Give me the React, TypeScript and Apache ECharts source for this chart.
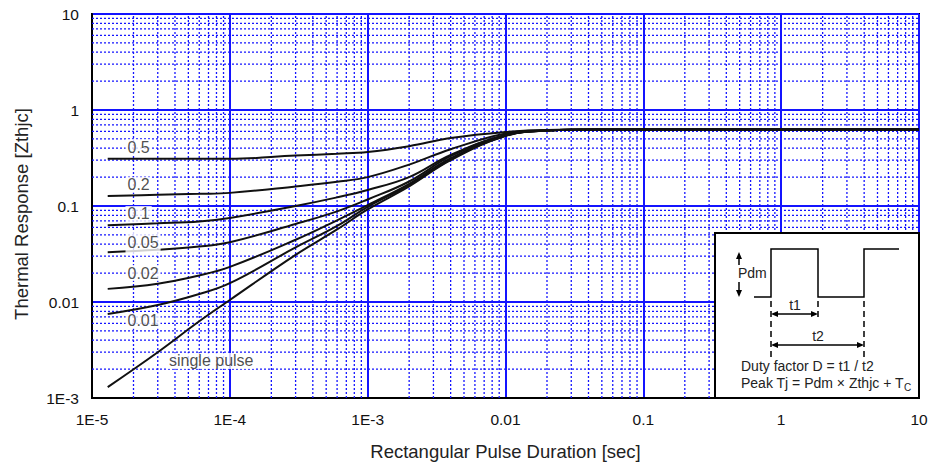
import React, { useEffect, useRef } from "react";
import * as echarts from "echarts";

// Pulse durations (sec) at which the curves are sampled
const times = [1.3e-5, 3e-5, 6e-5, 1e-4, 3e-4, 6e-4, 1e-3, 2e-3, 4e-3, 1e-2, 2e-2, 5e-2, 10];
// Thermal response (Zthjc) for each duty factor
const d05 = [0.31, 0.31, 0.31, 0.31, 0.335, 0.35, 0.365, 0.42, 0.51, 0.59, 0.62, 0.625, 0.625];
const d02 = [0.127, 0.131, 0.134, 0.137, 0.16, 0.179, 0.2, 0.27, 0.39, 0.57, 0.615, 0.625, 0.625];
const d01 = [0.063, 0.066, 0.069, 0.075, 0.1, 0.123, 0.147, 0.2, 0.34, 0.55, 0.61, 0.625, 0.625];
const d005 = [0.033, 0.035, 0.0378, 0.042, 0.065, 0.088, 0.117, 0.18, 0.33, 0.55, 0.61, 0.625, 0.625];
const d002 = [0.0137, 0.0155, 0.0189, 0.0232, 0.0445, 0.071, 0.102, 0.17, 0.315, 0.545, 0.61, 0.625, 0.625];
const d001 = [0.0075, 0.0093, 0.0121, 0.0157, 0.037, 0.062, 0.098, 0.165, 0.305, 0.54, 0.61, 0.625, 0.625];
const single = [0.0013, 0.003, 0.0063, 0.0105, 0.031, 0.057, 0.092, 0.16, 0.3, 0.535, 0.61, 0.625, 0.625];

const curveNames = ["0.5", "0.2", "0.1", "0.05", "0.02", "0.01", "single pulse"];
const curveValues = [d05, d02, d01, d005, d002, d001, single];

// Curve label anchor points (data coords: left edge of label)
const labelTexts = ["0.5", "0.2", "0.1", "0.05", "0.02", "0.01", "single pulse"];
const labelX = [1.75e-5, 1.75e-5, 1.75e-5, 1.75e-5, 1.75e-5, 1.75e-5, 3.5e-5];
const labelY = [0.41, 0.166, 0.0826, 0.0412, 0.02, 0.00634, 0.00243];

// Axis ranges and tick labels
const xRange = [1e-5, 10];
const yRange = [1e-3, 10];
const xTickLabels: Record<string, string> = {
  "0.00001": "1E-5", "0.0001": "1E-4", "0.001": "1E-3", "0.01": "0.01", "0.1": "0.1", "1": "1", "10": "10",
};
const yTickLabels: Record<string, string> = {
  "0.001": "1E-3", "0.01": "0.01", "0.1": "0.1", "1": "1", "10": "10",
};

// Minor log grid
const mantissas = [2, 3, 4, 5, 6, 7, 8, 9];
const xDecades = [-5, -4, -3, -2, -1, 0];
const yDecades = [-3, -2, -1, 0];

const FONT = "'Liberation Sans', Arial, Helvetica, sans-serif";

function minorValues(decades: number[]) {
  const out: number[] = [];
  decades.forEach((d) => mantissas.forEach((m) => out.push(Number((m * Math.pow(10, d)).toPrecision(3)))));
  return out;
}

function fmt(v: number, map: Record<string, string>) {
  const key = String(Number(v.toPrecision(3)));
  return map[key] ?? "";
}

export default function App() {
  const ref = useRef<HTMLDivElement>(null);

  useEffect(() => {
    if (!ref.current) return;
    const chart = echarts.init(ref.current, undefined, { renderer: "svg" });

    const minorX = minorValues(xDecades);
    const minorY = minorValues(yDecades);

    const blue = "#1414ff";
    const black = "#000";

    const vData: any[] = [];
    minorX.forEach((v) => {
      vData.push([v, yRange[0]], [v, yRange[1]], [v, "-"]);
    });
    const hData: any[] = [];
    minorY.forEach((v) => {
      hData.push([xRange[0], v], [xRange[1], v], ["-", v]);
    });
    const minorStyle = { color: blue, width: 1.3, type: [2, 2] };
    const gridSeries = [vData, hData].map((d) => ({
      type: "line",
      data: d,
      silent: true,
      z: 1,
      symbol: "none",
      showSymbol: false,
      connectNulls: false,
      lineStyle: minorStyle,
    }));

    const curveSeries = curveNames.map((name, i) => ({
      name,
      type: "line",
      data: times.map((t, j) => [t, curveValues[i][j]]),
      smooth: 0.4,
      showSymbol: false,
      symbol: "none",
      lineStyle: { color: "#111", width: 2 },
      z: 5,
      silent: true,
    }));

    const labelSeries = {
      type: "scatter",
      symbolSize: 0,
      z: 10,
      silent: true,
      data: labelTexts.map((t, i) => ({
        value: [labelX[i], labelY[i]],
        name: t,
        label: t === "0.05" ? { padding: [0, 2, 9, 2] } : undefined,
      })),
      label: {
        show: true,
        position: "right",
        distance: 0,
        formatter: (p: any) => p.name,
        color: "#222",
        fontSize: 16,
        fontFamily: FONT,
        backgroundColor: "#fff",
        padding: [0, 2, 0, 2],
      },
    };

    const arrowHead = (tip: number[], dir: "up" | "down" | "left" | "right") => {
      const [x, y] = tip;
      const L = 7, W = 3;
      let pts: number[][] = [];
      if (dir === "up") pts = [[x, y], [x - W, y + L], [x + W, y + L]];
      if (dir === "down") pts = [[x, y], [x - W, y - L], [x + W, y - L]];
      if (dir === "left") pts = [[x, y], [x + L, y - W], [x + L, y + W]];
      if (dir === "right") pts = [[x, y], [x - L, y - W], [x - L, y + W]];
      return { type: "polygon", z: 101, shape: { points: pts }, style: { fill: black } };
    };
    const seg = (x1: number, y1: number, x2: number, y2: number, dashed = false) => ({
      type: "line",
      z: 101,
      shape: { x1, y1, x2, y2 },
      style: { stroke: black, lineWidth: 1.5, lineDash: dashed ? [6, 4] : null },
    });
    const txt = (x: number, y: number, text: string, align = "left") => ({
      type: "text",
      z: 102,
      x,
      y,
      style: {
        text,
        fill: "#222",
        font: `14px ${FONT}`,
        align,
        verticalAlign: "middle",
      },
    });

    const inset = [
      {
        type: "rect",
        z: 100,
        shape: { x: 715, y: 233, width: 204, height: 165 },
        style: { fill: "#fff", stroke: black, lineWidth: 2 },
      },
      {
        type: "polyline",
        z: 101,
        shape: { points: [[754, 297], [771, 297], [771, 249], [818, 249], [818, 297], [864, 297], [864, 249], [899, 249]] },
        style: { stroke: black, lineWidth: 1.5, fill: null },
      },
      seg(739, 256, 739, 265), arrowHead([739, 252], "up"),
      seg(739, 282, 739, 292), arrowHead([739, 297], "down"),
      txt(738, 273, "Pdm"),
      seg(771, 301, 771, 358, true),
      seg(818, 301, 818, 320, true),
      seg(864, 301, 864, 358, true),
      seg(776, 314, 813, 314), arrowHead([771, 314], "left"), arrowHead([818, 314], "right"),
      seg(776, 345, 859, 345), arrowHead([771, 345], "left"), arrowHead([864, 345], "right"),
      txt(795, 305, "t1", "center"),
      txt(818, 336, "t2", "center"),
      txt(741, 366, "Duty factor D = t1 / t2"),
      {
        type: "text",
        z: 102,
        x: 741,
        y: 383,
        style: {
          text: "{a|Peak Tj = Pdm × Zthjc + T}{s|C}",
          verticalAlign: "middle",
          rich: {
            a: { fontSize: 14, fontFamily: FONT, fill: "#222", color: "#222" },
            s: { fontSize: 10, fontFamily: FONT, fill: "#222", color: "#222", padding: [8, 0, 0, 0] },
          },
        },
      },
    ];

    chart.setOption({
      animation: false,
      backgroundColor: "#fff",
      grid: {
        left: 92,
        right: 12,
        top: 14,
        bottom: 68,
        show: true,
        borderColor: black,
        borderWidth: 2,
        backgroundColor: "#fff",
      },
      xAxis: {
        type: "log",
        logBase: 10,
        min: xRange[0],
        max: xRange[1],
        name: "Rectangular Pulse Duration [sec]",
        nameLocation: "middle",
        nameGap: 44,
        nameTextStyle: { fontSize: 18.5, fontFamily: FONT, color: "#222" },
        axisLine: { show: true, lineStyle: { color: black, width: 2 } },
        axisTick: { show: false },
        axisLabel: {
          fontSize: 15.5,
          fontFamily: FONT,
          color: "#111",
          margin: 13,
          formatter: (v: number) => fmt(v, xTickLabels),
        },
        splitLine: { show: true, lineStyle: { color: blue, width: 2 } },
      },
      yAxis: {
        type: "log",
        logBase: 10,
        min: yRange[0],
        max: yRange[1],
        name: "Thermal Response [Zthjc]",
        nameLocation: "middle",
        nameGap: 61,
        nameTextStyle: { fontSize: 18.5, fontFamily: FONT, color: "#222", padding: [0, 16, 0, 0] },
        axisLine: { show: true, lineStyle: { color: black, width: 2 } },
        axisTick: { show: false },
        axisLabel: {
          fontSize: 15.5,
          fontFamily: FONT,
          color: "#111",
          margin: 13,
          formatter: (v: number) => fmt(v, yTickLabels),
        },
        splitLine: { show: true, lineStyle: { color: blue, width: 2 } },
      },
      series: [...gridSeries, ...curveSeries, labelSeries],
      graphic: inset,
    });

    return () => chart.dispose();
  }, []);

  return (
    <div
      ref={ref}
      style={{ position: "absolute", left: 0, top: 0, width: 931, height: 466, background: "#fff" }}
    />
  );
}
